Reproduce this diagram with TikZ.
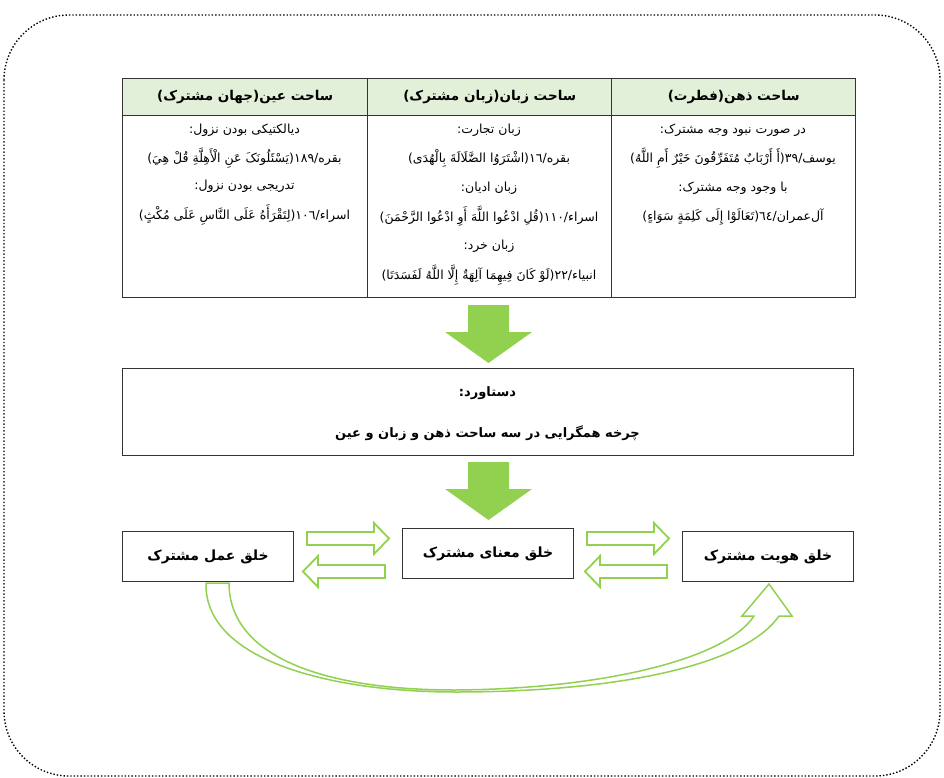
\documentclass[tikz,border=0pt]{standalone}
\usepackage{fontspec}
\newfontfamily\ar[Script=Arabic]{DejaVu Sans}
\TeXXeTstate=1
\newcommand{\fa}[1]{\beginR #1\endR}
\definecolor{hdrgreen}{HTML}{E2EFD9}
\definecolor{arrgreen}{HTML}{92D050}
\definecolor{linegray}{HTML}{333333}
\begin{document}
\begin{tikzpicture}[x=1pt,y=-1pt,
  hdr/.style={draw=linegray, line width=1.4pt, fill=hdrgreen, anchor=north west, minimum height=37pt, inner sep=0pt, font=\ar\bfseries\fontsize{13.5}{15}\selectfont},
  cellbox/.style={draw=linegray, line width=1.4pt, anchor=north west, minimum height=182pt, inner sep=0pt},
  celltext/.style={anchor=center, inner sep=0pt, font=\ar\fontsize{12.5}{14}\selectfont},
  resbox/.style={draw=linegray, line width=1.2pt, anchor=north west, minimum width=731pt, minimum height=87pt, inner sep=0pt},
  restext/.style={inner sep=0pt, font=\ar\bfseries\fontsize{13}{15}\selectfont},
  smallbox/.style={draw=linegray, line width=1.2pt, anchor=north west, minimum width=171pt, minimum height=50pt, inner sep=0pt, font=\ar\bfseries\fontsize{14}{16}\selectfont},
  bigarrow/.style={fill=arrgreen, draw=none},
  hollowarrow/.style={draw=arrgreen, line width=1.8pt, fill=white, line join=miter},
  curvearrow/.style={draw=arrgreen, line width=1.5pt, fill=white, line join=miter}
]
\useasboundingbox (0,0) rectangle (944,778);

% outer dotted frame
\draw[dotted, line width=1.4pt, rounded corners=65pt] (4,15) rectangle (940,776);

% table header
\node[hdr, minimum width=245pt] (h1) at (122,78) {\fa{ساحت عین(جهان مشترک)}};
\node[hdr, minimum width=244pt] (h2) at (367,78) {\fa{ساحت زبان(زبان مشترک)}};
\node[hdr, minimum width=244pt] (h3) at (611,78) {\fa{ساحت ذهن(فطرت)}};

% table body
\node[cellbox, minimum width=245pt] (b1) at (122,115) {};
\node[cellbox, minimum width=244pt] (b2) at (367,115) {};
\node[cellbox, minimum width=244pt] (b3) at (611,115) {};

% column 1 text
\node[celltext] (t11) at (244.5,130) {\fa{دیالکتیکی بودن نزول:}};
\node[celltext] (t12) at (244.5,158) {\fa{بقره/١٨٩(يَسْئَلُونَکَ عَنِ الْأَهِلَّةِ قُلْ هِيَ)}};
\node[celltext] (t13) at (244.5,186) {\fa{تدریجی بودن نزول:}};
\node[celltext] (t14) at (244.5,215) {\fa{اسراء/١٠٦(لِتَقْرَأَهُ عَلَى النَّاسِ عَلَى مُكْثٍ)}};

% column 2 text
\node[celltext] (t21) at (489,130) {\fa{زبان تجارت:}};
\node[celltext] (t22) at (489,158) {\fa{بقره/١٦(اشْتَرَوُا الضَّلَالَةَ بِالْهُدَى)}};
\node[celltext] (t23) at (489,188) {\fa{زبان ادیان:}};
\node[celltext] (t24) at (489,216) {\fa{اسراء/١١٠(قُلِ ادْعُوا اللَّهَ أَوِ ادْعُوا الرَّحْمَنَ)}};
\node[celltext] (t25) at (489,246) {\fa{زبان خرد:}};
\node[celltext] (t26) at (489,275) {\fa{انبیاء/٢٢(لَوْ كَانَ فِيهِمَا آلِهَةٌ إِلَّا اللَّهُ لَفَسَدَتَا)}};

% column 3 text
\node[celltext] (t31) at (733,130) {\fa{در صورت نبود وجه مشترک:}};
\node[celltext] (t32) at (733,158) {\fa{یوسف/٣٩(أَ أَرْبَابٌ مُتَفَرِّقُونَ خَيْرٌ أَمِ اللَّهُ)}};
\node[celltext] (t33) at (733,188) {\fa{با وجود وجه مشترک:}};
\node[celltext] (t34) at (733,217) {\fa{آل‌عمران/٦٤(تَعَالَوْا إِلَى كَلِمَةٍ سَوَاءٍ)}};

% big down arrows
\fill[bigarrow] (468,305) -- (509,305) -- (509,332) -- (532,332) -- (488.5,363) -- (445,332) -- (468,332) -- cycle;

% result box
\node[resbox] (res) at (122,368) {};
\node[restext] (res1) at (487.5,393) {\fa{دستاورد:}};
\node[restext] (res2) at (487.5,433) {\fa{چرخه همگرایی در سه ساحت ذهن و زبان و عین}};

\fill[bigarrow] (468,462) -- (509,462) -- (509,489) -- (532,489) -- (488.5,520) -- (445,489) -- (468,489) -- cycle;

% bottom boxes
\node[smallbox] (amal) at (122,531) {\fa{خلق عمل مشترک}};
\node[smallbox] (mana) at (402,528) {\fa{خلق معنای مشترک}};
\node[smallbox] (hoviat) at (682,531) {\fa{خلق هویت مشترک}};

% hollow arrows between left and middle
\draw[hollowarrow] (307,532) -- (374,532) -- (374,523) -- (389,538.5) -- (374,554) -- (374,545) -- (307,545) -- cycle;
\draw[hollowarrow] (385,565) -- (318,565) -- (318,556) -- (303,571.5) -- (318,587) -- (318,578) -- (385,578) -- cycle;
% hollow arrows between middle and right
\draw[hollowarrow] (587,532) -- (654,532) -- (654,523) -- (669,538.5) -- (654,554) -- (654,545) -- (587,545) -- cycle;
\draw[hollowarrow] (667,565) -- (600,565) -- (600,556) -- (585,571.5) -- (600,587) -- (600,578) -- (667,578) -- cycle;

% curved hollow arrow from amal to hoviat
\draw[curvearrow] (206,583)
  .. controls (204,660) and (330,692) .. (455,692)
  .. controls (620,692) and (745,665) .. (779,616)
  -- (792,616) -- (769,584) -- (742,616) -- (754,616)
  .. controls (725,660) and (600,689) .. (455,690)
  .. controls (320,690) and (229,655) .. (229,583) -- cycle;
\end{tikzpicture}
\end{document}
